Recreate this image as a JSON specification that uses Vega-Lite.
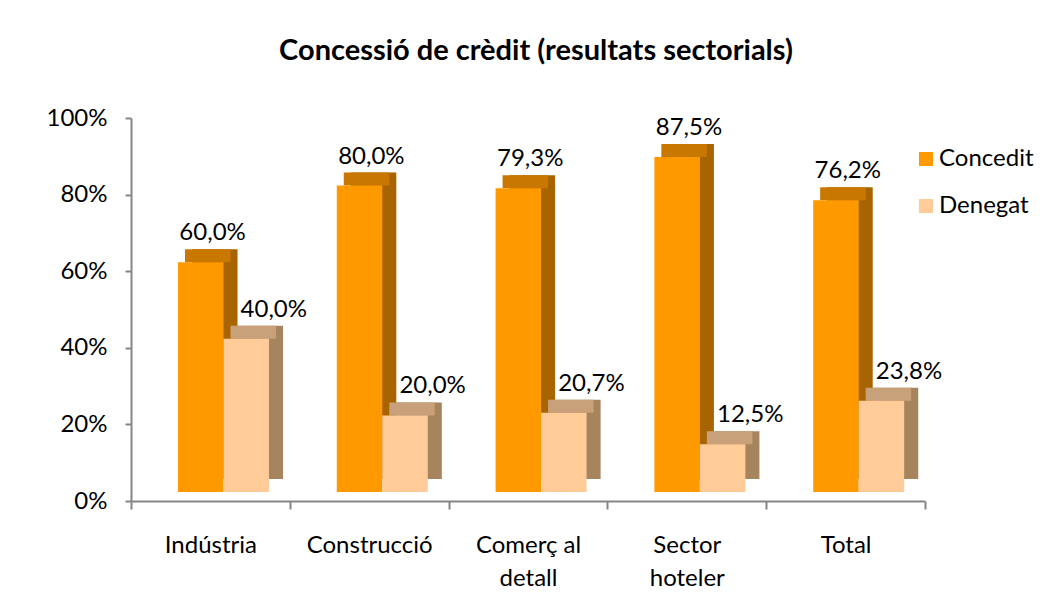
{
  "$schema": "https://vega.github.io/schema/vega-lite/v6.json",
  "width": 794,
  "height": 383,
  "autosize": "none",
  "padding": {"left": 131, "top": 118, "right": 123, "bottom": 110},
  "background": "white",
  "title": {
    "text": "Concessió de crèdit (resultats sectorials)",
    "font": "Lato",
    "fontSize": 29,
    "fontWeight": "bold",
    "color": "black",
    "anchor": "middle",
    "dx": 8,
    "offset": 40
  },
  "config": {
    "view": {"stroke": null},
    "font": "Lato",
    "locale": {"number": {"decimal": ",", "thousands": ".", "grouping": [3], "currency": ["", " €"]}}
  },
  "data": {
    "values": [
      {"sector": "Indústria", "serie": "Concedit", "value": 0.600},
      {"sector": "Indústria", "serie": "Denegat", "value": 0.400},
      {"sector": "Construcció", "serie": "Concedit", "value": 0.800},
      {"sector": "Construcció", "serie": "Denegat", "value": 0.200},
      {"sector": "Comerç al detall", "serie": "Concedit", "value": 0.793},
      {"sector": "Comerç al detall", "serie": "Denegat", "value": 0.207},
      {"sector": "Sector hoteler", "serie": "Concedit", "value": 0.875},
      {"sector": "Sector hoteler", "serie": "Denegat", "value": 0.125},
      {"sector": "Total", "serie": "Concedit", "value": 0.762},
      {"sector": "Total", "serie": "Denegat", "value": 0.238}
    ]
  },
  "encoding": {
    "x": {
      "field": "sector",
      "type": "nominal",
      "sort": null,
      "title": null,
      "scale": {"paddingInner": 0, "paddingOuter": 0},
      "axis": {
        "tickBand": "extent",
        "labelAngle": 0,
        "labelFont": "Lato",
        "labelFontSize": 24,
        "labelColor": "black",
        "labelPadding": 24,
        "labelLineHeight": 33,
        "labelExpr": "datum.value == 'Comerç al detall' ? ['Comerç al', 'detall'] : datum.value == 'Sector hoteler' ? ['Sector', 'hoteler'] : datum.value",
        "domainColor": "#868686",
        "domainWidth": 2,
        "tickColor": "#868686",
        "tickWidth": 2,
        "tickSize": 8
      }
    },
    "y": {
      "field": "value",
      "type": "quantitative",
      "title": null,
      "scale": {"domain": [0, 1], "nice": false},
      "axis": {
        "values": [0, 0.2, 0.4, 0.6, 0.8, 1],
        "format": ".0%",
        "grid": false,
        "labelFont": "Lato",
        "labelFontSize": 24,
        "labelColor": "black",
        "labelPadding": 18,
        "domainColor": "#868686",
        "domainWidth": 2,
        "tickColor": "#868686",
        "tickWidth": 2,
        "tickSize": 6
      }
    }
  },
  "layer": [
    {
      "mark": {"type": "bar", "yOffset": -22, "y2Offset": -22},
      "encoding": {
        "xOffset": {"field": "serie", "type": "nominal", "scale": {"paddingInner": 0, "paddingOuter": 0.745, "align": 0.9}},
        "y2": {"datum": 0},
        "color": {"condition": {"test": "datum.serie == 'Concedit'", "value": "#A86400"}, "value": "#A6845E"}
      }
    },
    {
      "mark": {"type": "bar", "yOffset": -22, "y2Offset": -9},
      "encoding": {
        "xOffset": {"field": "serie", "type": "nominal", "scale": {"paddingInner": 0, "paddingOuter": 0.745, "align": 0.796}},
        "y2": {"field": "value"},
        "color": {"condition": {"test": "datum.serie == 'Concedit'", "value": "#C87800"}, "value": "#C8A07A"}
      }
    },
    {
      "mark": {"type": "bar", "yOffset": -9, "y2Offset": -9},
      "encoding": {
        "xOffset": {"field": "serie", "type": "nominal", "scale": {"paddingInner": 0, "paddingOuter": 0.745, "align": 0.693}},
        "y2": {"datum": 0},
        "color": {
          "field": "serie",
          "type": "nominal",
          "scale": {"domain": ["Concedit", "Denegat"], "range": ["#FF9900", "#FFCC99"]},
          "legend": {
            "title": null,
            "orient": "none",
            "legendX": 783,
            "legendY": 29,
            "symbolType": "square",
            "symbolSize": 196,
            "symbolStrokeWidth": 0,
            "labelFont": "Lato",
            "labelFontSize": 24,
            "labelColor": "black",
            "labelOffset": 1,
            "rowPadding": 23
          }
        }
      }
    },
    {
      "mark": {"type": "text", "font": "Lato", "fontSize": 24, "color": "black", "baseline": "middle", "dy": -38},
      "encoding": {
        "xOffset": {"field": "serie", "type": "nominal", "scale": {"padding": 0.797, "align": 0.836}},
        "text": {"field": "value", "type": "quantitative", "format": ".1%"}
      }
    }
  ],
  "resolve": {"scale": {"xOffset": "independent"}}
}
